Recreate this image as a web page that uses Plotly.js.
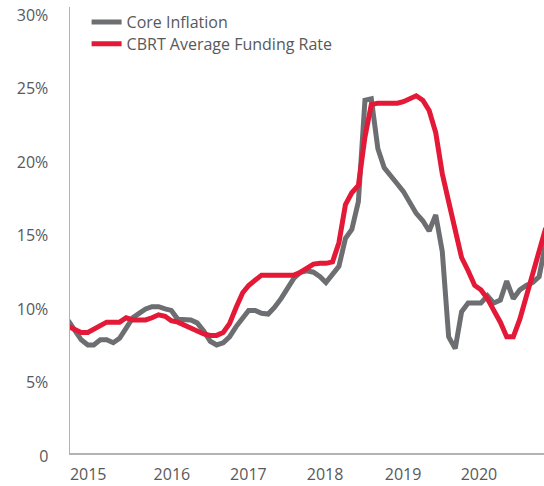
<!DOCTYPE html>
<html>
<head>
<meta charset="utf-8">
<script src="https://cdn.plot.ly/plotly-3.0.1.min.js"></script>
<style>html,body{margin:0;padding:0;background:#fff;}#chart{width:544px;height:486px;}</style>
</head>
<body>
<div id="chart"></div>
<script>
// Monthly observations, Nov 2014 - Jan 2021
var months = [
  '2014-11-01','2014-12-01',
  '2015-01-01','2015-02-01','2015-03-01','2015-04-01','2015-05-01','2015-06-01','2015-07-01','2015-08-01','2015-09-01','2015-10-01','2015-11-01','2015-12-01',
  '2016-01-01','2016-02-01','2016-03-01','2016-04-01','2016-05-01','2016-06-01','2016-07-01','2016-08-01','2016-09-01','2016-10-01','2016-11-01','2016-12-01',
  '2017-01-01','2017-02-01','2017-03-01','2017-04-01','2017-05-01','2017-06-01','2017-07-01','2017-08-01','2017-09-01','2017-10-01','2017-11-01','2017-12-01',
  '2018-01-01','2018-02-01','2018-03-01','2018-04-01','2018-05-01','2018-06-01','2018-07-01','2018-08-01','2018-09-01','2018-10-01','2018-11-01','2018-12-01',
  '2019-01-01','2019-02-01','2019-03-01','2019-04-01','2019-05-01','2019-06-01','2019-07-01','2019-08-01','2019-09-01','2019-10-01','2019-11-01','2019-12-01',
  '2020-01-01','2020-02-01','2020-03-01','2020-04-01','2020-05-01','2020-06-01','2020-07-01','2020-08-01','2020-09-01','2020-10-01','2020-11-01','2020-12-01',
  '2021-01-01'
];

var coreInflation = [
  9.0, 8.4,
  7.7, 7.35, 7.35, 7.7, 7.7, 7.5, 7.8, 8.5, 9.2, 9.5, 9.8, 9.95,
  9.95, 9.8, 9.7, 9.1, 9.05, 9.05, 8.85, 8.3, 7.6, 7.35, 7.5, 7.9,
  8.6, 9.2, 9.7, 9.7, 9.5, 9.45, 9.9, 10.5, 11.2, 11.9, 12.3, 12.4,
  12.3, 12.0, 11.6, 12.2, 12.7, 14.6, 15.2, 17.1, 24.0, 24.1, 20.7, 19.4,
  18.9, 18.3, 17.8, 17.1, 16.3, 15.8, 15.1, 16.2, 13.7, 7.9, 7.1, 9.6,
  10.2, 10.2, 10.2, 10.7, 10.2, 10.4, 11.7, 10.5, 11.1, 11.4, 11.6, 12.0,
  14.3
];

var cbrtFunding = [
  8.6, 8.4,
  8.2, 8.2, 8.4, 8.6, 8.9, 8.9, 8.9, 9.2, 9.05, 9.05, 9.05, 9.2,
  9.4, 9.3, 9.0, 8.9, 8.7, 8.5, 8.3, 8.1, 8.0, 8.0, 8.2, 8.8,
  9.9, 10.9, 11.4, 11.8, 12.1, 12.1, 12.1, 12.1, 12.1, 12.1, 12.3, 12.6,
  12.85, 12.9, 12.9, 13.0, 14.3, 16.9, 17.7, 18.2, 21.5, 23.7, 23.8, 23.8,
  23.8, 23.8, 23.9, 24.1, 24.3, 24.0, 23.3, 21.8, 19.0, 17.1, 15.2, 13.3,
  12.4, 11.4, 11.1, 10.5, 9.7, 8.9, 7.9, 7.9, 9.1, 10.6, 12.2, 13.8,
  15.3
];

var seriesNames = ['Core Inflation', 'CBRT Average Funding Rate'];
var seriesColors = ['#6d6e71', '#e31937'];

var xTickVals = ['2015-02-03','2016-03-04','2017-02-28','2018-02-25','2019-02-28','2020-02-21'];
var xTickText = ['2015','2016','2017','2018','2019','2020'];
var yTickVals = [0, 5, 10, 15, 20, 25, 30];
var yTickText = ['0', '5%', '10%', '15%', '20%', '25%', '30%'];

var labelFont = {family: 'Open Sans, sans-serif', size: 16, color: '#58595b'};

var traces = [
  {x: months, y: coreInflation, name: seriesNames[0], type: 'scatter', mode: 'lines',
   legend: 'legend', line: {color: seriesColors[0], width: 5, shape: 'linear'}},
  {x: months, y: cbrtFunding, name: seriesNames[1], type: 'scatter', mode: 'lines',
   legend: 'legend2', line: {color: seriesColors[1], width: 5, shape: 'linear'}}
];

var legendBase = {xanchor: 'left', yanchor: 'middle', bgcolor: 'rgba(0,0,0,0)',
                  font: labelFont, itemwidth: 30, borderwidth: 0};

var layout = {
  width: 544, height: 486,
  margin: {l: 70, r: 0, t: 7, b: 32.5, pad: 0},
  paper_bgcolor: '#ffffff', plot_bgcolor: '#ffffff',
  showlegend: true,
  legend: Object.assign({}, legendBase, {x: 0.035, y: 0.9664}),
  legend2: Object.assign({}, legendBase, {x: 0.035, y: 0.9171}),
  xaxis: {type: 'date', range: ['2014-11-09', '2020-12-24'], showgrid: false, zeroline: false,
          showline: true, linecolor: '#b3b3b3', linewidth: 1.5, ticks: '',
          tickmode: 'array', tickvals: xTickVals, ticktext: xTickText, tickfont: labelFont,
          ticklabelstandoff: 6, fixedrange: true},
  yaxis: {range: [0, 30.34], showgrid: false, zeroline: false,
          showline: true, linecolor: '#b3b3b3', linewidth: 1.5, ticks: '',
          tickmode: 'array', tickvals: yTickVals, ticktext: yTickText, tickfont: labelFont,
          ticklabelstandoff: 17, ticklabelshift: 3, fixedrange: true}
};

Plotly.newPlot('chart', traces, layout, {displayModeBar: false, staticPlot: true});
</script>
</body>
</html>
